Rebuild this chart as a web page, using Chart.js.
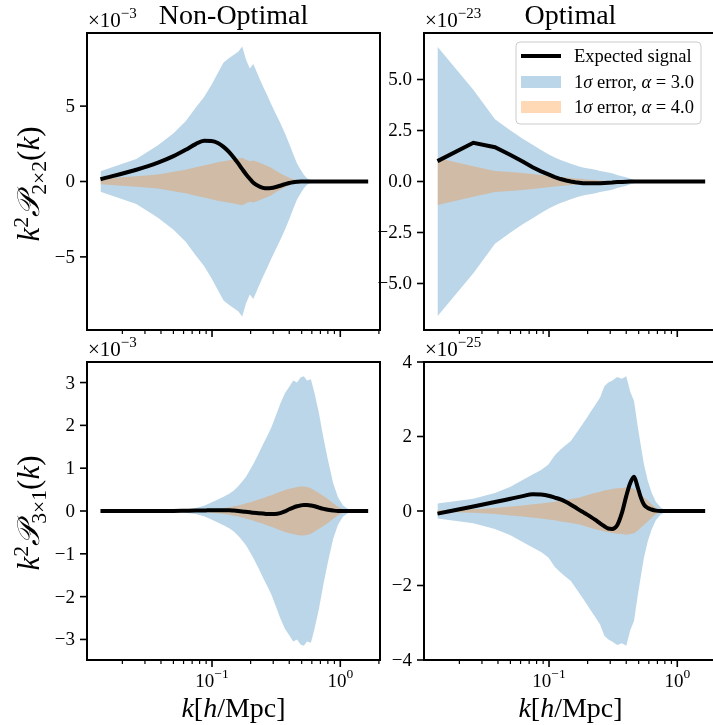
<!DOCTYPE html>
<html>
<head>
<meta charset="utf-8">
<script src="https://cdn.jsdelivr.net/npm/chart.js@4.4.1/dist/chart.umd.min.js"></script>
<style>
  html, body { margin: 0; padding: 0; background: #fff; overflow: hidden; width: 713px; height: 725px; }
  #fig { position: relative; width: 713px; height: 725px; font-family: "Liberation Serif", serif; color: #000; }
  #fig canvas { position: absolute; }
  .lab { position: absolute; white-space: nowrap; line-height: 1; transform: translate(-50%, -50%); }
  .title { font-size: 28px; }
  .xlab { font-size: 28px; }
  .ylab { font-size: 31px; transform: translate(-50%, -50%) rotate(-90deg); }
  .lab sup { font-size: 0.7em; position: relative; top: -0.5em; vertical-align: baseline; }
  .lab sub { font-size: 0.7em; position: relative; top: 0.3em; vertical-align: baseline; }
  .cal { font-family: "DejaVu Serif", serif; font-style: italic; }
</style>
</head>
<body>
<div id="fig">
  <canvas id="c22n" width="390" height="342" style="left:0px;top:0px"></canvas>
  <canvas id="c22o" width="390" height="342" style="left:337px;top:0px"></canvas>
  <canvas id="c31n" width="390" height="371" style="left:0px;top:329px"></canvas>
  <canvas id="c31o" width="390" height="371" style="left:337px;top:329px"></canvas>

  <div class="lab title" style="left:233.5px;top:15px">Non-Optimal</div>
  <div class="lab title" style="left:570.5px;top:15px">Optimal</div>
  <div class="lab ylab" style="left:28px;top:184px"><i>k</i><sup>2</sup><span class="cal">𝒫</span><sub>2×2</sub>(<i>k</i>)</div>
  <div class="lab ylab" style="left:28px;top:513px"><i>k</i><sup>2</sup><span class="cal">𝒫</span><sub>3×1</sub>(<i>k</i>)</div>
  <div class="lab xlab" style="left:233.5px;top:708px"><i>k</i>[<i>h</i>/Mpc]</div>
  <div class="lab xlab" style="left:570.5px;top:708px"><i>k</i>[<i>h</i>/Mpc]</div>
</div>
<script>
// wavenumber samples k [h/Mpc], shared by all four panels
const K = [0.0135, 0.0257, 0.0379, 0.0501, 0.0623, 0.0745, 0.0867, 0.0989, 0.111, 0.123,
  0.136, 0.148, 0.16, 0.172, 0.184, 0.197, 0.21, 0.23, 0.25, 0.27,
  0.29, 0.31, 0.34, 0.37, 0.4, 0.43, 0.46, 0.49, 0.52, 0.55,
  0.59, 0.63, 0.68, 0.74, 0.8, 0.88, 0.96, 1.05, 1.2, 1.4, 1.65];

// k^2 P_2x2(k), non-optimal weights, units of 1e-3
const SIG_22_NONOPT = [0.15, 0.78, 1.25, 1.68, 2.1, 2.48, 2.7, 2.68, 2.55, 2.3,
  1.95, 1.58, 1.2, 0.82, 0.48, 0.18, -0.08, -0.3, -0.42, -0.45,
  -0.43, -0.38, -0.28, -0.18, -0.1, -0.05, -0.02, 0, 0, 0,
  0, 0, 0, 0, 0, 0, 0, 0, 0, 0, 0];
const ERR3_22_NONOPT = [0.68, 1.5, 2.4, 3.2, 4.0, 4.9, 5.6, 6.4, 7.2, 7.9,
  8.2, 8.4, 8.6, 8.95, 8.1, 7.5, 7.8, 7.0, 6.3, 5.7,
  5.1, 4.6, 3.9, 3.2, 2.5, 1.8, 1.2, 0.8, 0.45, 0.22,
  0.08, 0.02, 0, 0, 0, 0, 0, 0, 0, 0, 0];
const ERR4_22_NONOPT = [0.18, 0.35, 0.47, 0.64, 0.78, 0.94, 1.06, 1.18, 1.27, 1.34,
  1.41, 1.46, 1.52, 1.57, 1.45, 1.35, 1.4, 1.28, 1.15, 1.03,
  0.92, 0.75, 0.55, 0.38, 0.25, 0.15, 0.07, 0.02, 0, 0,
  0, 0, 0, 0, 0, 0, 0, 0, 0, 0, 0];

// k^2 P_2x2(k), optimal weights, units of 1e-23
const SIG_22_OPT = [1.0, 1.9, 1.68, 1.3, 0.98, 0.7, 0.5, 0.35, 0.22, 0.12,
  0.05, 0, -0.04, -0.06, -0.08, -0.08, -0.08, -0.08, -0.08, -0.07,
  -0.06, -0.05, -0.03, -0.02, -0.01, 0, 0, 0, 0, 0,
  0, 0, 0, 0, 0, 0, 0, 0, 0, 0, 0];
const ERR3_22_OPT = [6.6, 4.5, 3.05, 2.5, 2.1, 1.8, 1.55, 1.33, 1.18, 1.05,
  0.95, 0.87, 0.8, 0.74, 0.69, 0.65, 0.62, 0.57, 0.52, 0.48,
  0.44, 0.4, 0.32, 0.26, 0.21, 0.14, 0.08, 0.03, 0, 0,
  0, 0, 0, 0, 0, 0, 0, 0, 0, 0, 0];
const ERR4_22_OPT = [1.15, 0.75, 0.52, 0.47, 0.42, 0.37, 0.32, 0.28, 0.25, 0.22,
  0.19, 0.17, 0.15, 0.13, 0.12, 0.1, 0.09, 0.07, 0.05, 0.04,
  0.03, 0.02, 0.01, 0, 0, 0, 0, 0, 0, 0,
  0, 0, 0, 0, 0, 0, 0, 0, 0, 0, 0];

// k^2 P_3x1(k), non-optimal weights, units of 1e-3
const SIG_31_NONOPT = [0, 0, 0, 0, 0.005, 0.01, 0.01, 0.02, 0.02, 0.02,
  0.02, 0.01, 0, -0.01, -0.02, -0.03, -0.04, -0.05, -0.06, -0.07,
  -0.07, -0.07, -0.05, -0.01, 0.04, 0.08, 0.11, 0.13, 0.14, 0.14,
  0.13, 0.11, 0.08, 0.05, 0.03, 0.01, 0, 0, 0, 0, 0];
const ERR3_31_NONOPT = [0, 0, 0.01, 0.02, 0.04, 0.07, 0.12, 0.2, 0.27, 0.33,
  0.4, 0.48, 0.58, 0.69, 0.8, 0.95, 1.1, 1.33, 1.56, 1.76,
  1.95, 2.18, 2.5, 2.75, 2.9, 3.05, 3.0, 3.12, 3.15, 3.05,
  3.08, 2.75, 2.3, 1.7, 1.2, 0.65, 0.32, 0.13, 0.01, 0, 0];
const ERR4_31_NONOPT = [0, 0, 0, 0, 0.01, 0.015, 0.02, 0.04, 0.05, 0.07,
  0.09, 0.11, 0.13, 0.15, 0.18, 0.2, 0.23, 0.27, 0.3, 0.34,
  0.37, 0.4, 0.45, 0.49, 0.52, 0.54, 0.56, 0.57, 0.57, 0.56,
  0.53, 0.48, 0.42, 0.35, 0.28, 0.18, 0.1, 0.04, 0, 0, 0];

// k^2 P_3x1(k), optimal weights, units of 1e-25
const SIG_31_OPT = [-0.07, 0.12, 0.24, 0.33, 0.4, 0.45, 0.44, 0.41, 0.36, 0.31,
  0.24, 0.17, 0.1, 0.03, -0.03, -0.09, -0.15, -0.24, -0.33, -0.41,
  -0.47, -0.48, -0.38, -0.05, 0.4, 0.75, 0.92, 0.65, 0.36, 0.17,
  0.08, 0.04, 0.01, 0, 0, 0, 0, 0, 0, 0, 0];
const ERR3_31_OPT = [0.2, 0.33, 0.48, 0.65, 0.83, 0.98, 1.1, 1.25, 1.5, 1.65,
  1.78, 1.88, 2.05, 2.2, 2.35, 2.5, 2.65, 2.85, 3.05, 3.35,
  3.45, 3.5, 3.6, 3.55, 3.62, 3.2, 2.95, 2.3, 1.75, 1.25,
  0.8, 0.5, 0.25, 0.1, 0.03, 0, 0, 0, 0, 0, 0];
const ERR4_31_OPT = [0.02, 0.05, 0.08, 0.12, 0.15, 0.18, 0.2, 0.23, 0.25, 0.28,
  0.3, 0.32, 0.34, 0.36, 0.39, 0.42, 0.45, 0.49, 0.52, 0.55,
  0.57, 0.59, 0.61, 0.62, 0.64, 0.62, 0.6, 0.53, 0.45, 0.37,
  0.28, 0.18, 0.09, 0.03, 0, 0, 0, 0, 0, 0, 0];

// axis ticks
const X_MAJOR = [0.1, 1];
const X_MAJOR_EXP = ['−1', '0'];
const X_MINOR = [0.02, 0.03, 0.04, 0.05, 0.06, 0.07, 0.08, 0.09,
  0.2, 0.3, 0.4, 0.5, 0.6, 0.7, 0.8, 0.9, 2];
const Y_TICKS_22_NONOPT = [-5, 0, 5];
const Y_LABELS_22_NONOPT = ['−5', '0', '5'];
const Y_TICKS_22_OPT = [-5, -2.5, 0, 2.5, 5];
const Y_LABELS_22_OPT = ['−5.0', '−2.5', '0.0', '2.5', '5.0'];
const Y_TICKS_31_NONOPT = [-3, -2, -1, 0, 1, 2, 3];
const Y_LABELS_31_NONOPT = ['−3', '−2', '−1', '0', '1', '2', '3'];
const Y_TICKS_31_OPT = [-4, -2, 0, 2, 4];
const Y_LABELS_31_OPT = ['−4', '−2', '0', '2', '4'];

const K_MIN = 0.0106, K_MAX = 2.04;
const BLUE = 'rgba(31,119,180,0.3)';
const ORANGE = 'rgba(255,127,14,0.3)';
const FONT = "'Liberation Serif', serif";
const TICK_FONT = '19px ' + FONT;
const SUP_FONT = '13.5px ' + FONT;
const OFFSET_FONT = '21px ' + FONT;
const OFFSET_SUP_FONT = '15px ' + FONT;

// draw a run of [text, font, dy] pieces left to right, return end x
function drawRuns(ctx, runs, x, y) {
  runs.forEach(([t, f, dy]) => {
    ctx.font = f;
    ctx.fillText(t, x, y + (dy || 0));
    x += ctx.measureText(t).width;
  });
  return x;
}
function runsWidth(ctx, runs) {
  let w = 0;
  runs.forEach(([t, f]) => { ctx.font = f; w += ctx.measureText(t).width; });
  return w;
}

function drawLegend(ctx, a) {
  const lx = a.right - 201, ly = a.top + 9, lw = 185, lh = 82;
  ctx.save();
  ctx.beginPath();
  ctx.roundRect(lx, ly, lw, lh, 4);
  ctx.fillStyle = 'rgba(255,255,255,0.8)';
  ctx.fill();
  ctx.strokeStyle = '#cccccc';
  ctx.lineWidth = 1;
  ctx.stroke();

  ctx.strokeStyle = '#000';
  ctx.lineWidth = 4;
  ctx.beginPath(); ctx.moveTo(lx + 5, ly + 14); ctx.lineTo(lx + 45, ly + 14); ctx.stroke();
  ctx.fillStyle = BLUE; ctx.fillRect(lx + 5, ly + 34, 40, 12);
  ctx.fillStyle = ORANGE; ctx.fillRect(lx + 5, ly + 59, 40, 12);

  ctx.fillStyle = '#000';
  ctx.textAlign = 'left';
  ctx.textBaseline = 'alphabetic';
  const up = '18.5px ' + FONT, it = 'italic 18.5px ' + FONT;
  const tx = lx + 58;
  drawRuns(ctx, [['Expected signal', up]], tx, ly + 20);
  drawRuns(ctx, [['1', up], ['σ', it], [' error, ', up], ['α', it], [' = 3.0', up]], tx, ly + 46);
  drawRuns(ctx, [['1', up], ['σ', it], [' error, ', up], ['α', it], [' = 4.0', up]], tx, ly + 71);
  ctx.restore();
}

// frame, ticks, tick labels, offset text and legend for one panel
function axesPlugin(spec) {
  return {
    id: 'panelAxes',
    afterDatasetsDraw(chart) {
      const { ctx, chartArea: a } = chart;
      const xs = chart.scales.x, ys = chart.scales.y;
      ctx.save();
      ctx.strokeStyle = '#000';
      ctx.fillStyle = '#000';

      ctx.lineWidth = 2;
      ctx.strokeRect(a.left, a.top, a.right - a.left, a.bottom - a.top);

      ctx.lineWidth = 1.6;
      ctx.font = TICK_FONT;
      ctx.textAlign = 'right';
      ctx.textBaseline = 'middle';
      spec.yTicks.forEach((v, i) => {
        const py = ys.getPixelForValue(v);
        ctx.beginPath(); ctx.moveTo(a.left - 7, py); ctx.lineTo(a.left, py); ctx.stroke();
        ctx.fillText(spec.yLabels[i], a.left - 12, py + 1);
      });

      ctx.lineWidth = 1.2;
      X_MINOR.forEach(v => {
        const px = xs.getPixelForValue(v);
        if (px < a.left || px > a.right) return;
        ctx.beginPath(); ctx.moveTo(px, a.bottom); ctx.lineTo(px, a.bottom + 4); ctx.stroke();
      });
      ctx.lineWidth = 1.6;
      ctx.textAlign = 'left';
      ctx.textBaseline = 'alphabetic';
      X_MAJOR.forEach((v, i) => {
        const px = xs.getPixelForValue(v);
        ctx.beginPath(); ctx.moveTo(px, a.bottom); ctx.lineTo(px, a.bottom + 7); ctx.stroke();
        if (spec.xLabels) {
          const runs = [['10', TICK_FONT], [X_MAJOR_EXP[i], SUP_FONT, -9]];
          drawRuns(ctx, runs, px - runsWidth(ctx, runs) / 2, a.bottom + 27);
        }
      });

      drawRuns(ctx, [['×10', OFFSET_FONT], [spec.exp, OFFSET_SUP_FONT, -9]], a.left + 1, a.top - 6);

      if (spec.legend) drawLegend(ctx, a);
      ctx.restore();
    }
  };
}

function makePanel(id, spec) {
  const pts = (arr, s) => K.map((k, i) => ({ x: k, y: s * arr[i] }));
  const band = (arr, color) => [
    { data: pts(arr, 1), borderWidth: 0, borderColor: 'transparent', pointRadius: 0,
      fill: '+1', backgroundColor: color, tension: 0 },
    { data: pts(arr, -1), borderWidth: 0, borderColor: 'transparent', pointRadius: 0,
      fill: false, tension: 0 },
  ];
  new Chart(document.getElementById(id), {
    type: 'line',
    data: {
      datasets: [
        // first dataset is painted last, so the signal sits on top
        { data: pts(spec.sig, 1), borderColor: '#000', borderWidth: 4, pointRadius: 0,
          fill: false, cubicInterpolationMode: spec.smooth ? 'monotone' : 'default', tension: 0 },
        ...band(spec.err4, ORANGE),
        ...band(spec.err3, BLUE),
      ]
    },
    options: {
      responsive: false,
      animation: false,
      events: [],
      layout: { padding: { top: 33, right: 10, left: 0, bottom: 0 } },
      plugins: { legend: { display: false }, tooltip: { enabled: false } },
      scales: {
        x: {
          type: 'logarithmic', min: K_MIN, max: K_MAX, bounds: 'data',
          ticks: { display: false }, grid: { display: false }, border: { display: false },
          afterFit: s => { s.height = spec.padB; },
        },
        y: {
          type: 'linear', min: -spec.yMax, max: spec.yMax, bounds: 'data',
          ticks: { display: false }, grid: { display: false }, border: { display: false },
          afterFit: s => { s.width = 87; },
        },
      },
    },
    plugins: [axesPlugin(spec)],
  });
}

makePanel('c22n', { sig: SIG_22_NONOPT, err3: ERR3_22_NONOPT, err4: ERR4_22_NONOPT,
  yMax: 9.85, yTicks: Y_TICKS_22_NONOPT, yLabels: Y_LABELS_22_NONOPT,
  exp: '−3', xLabels: false, padB: 12, smooth: true });
makePanel('c22o', { sig: SIG_22_OPT, err3: ERR3_22_OPT, err4: ERR4_22_OPT,
  yMax: 7.28, yTicks: Y_TICKS_22_OPT, yLabels: Y_LABELS_22_OPT,
  exp: '−23', xLabels: false, padB: 12, smooth: false, legend: true });
makePanel('c31n', { sig: SIG_31_NONOPT, err3: ERR3_31_NONOPT, err4: ERR4_31_NONOPT,
  yMax: 3.48, yTicks: Y_TICKS_31_NONOPT, yLabels: Y_LABELS_31_NONOPT,
  exp: '−3', xLabels: true, padB: 40, smooth: true });
makePanel('c31o', { sig: SIG_31_OPT, err3: ERR3_31_OPT, err4: ERR4_31_OPT,
  yMax: 4.0, yTicks: Y_TICKS_31_OPT, yLabels: Y_LABELS_31_OPT,
  exp: '−25', xLabels: true, padB: 40, smooth: true });
</script>
</body>
</html>
